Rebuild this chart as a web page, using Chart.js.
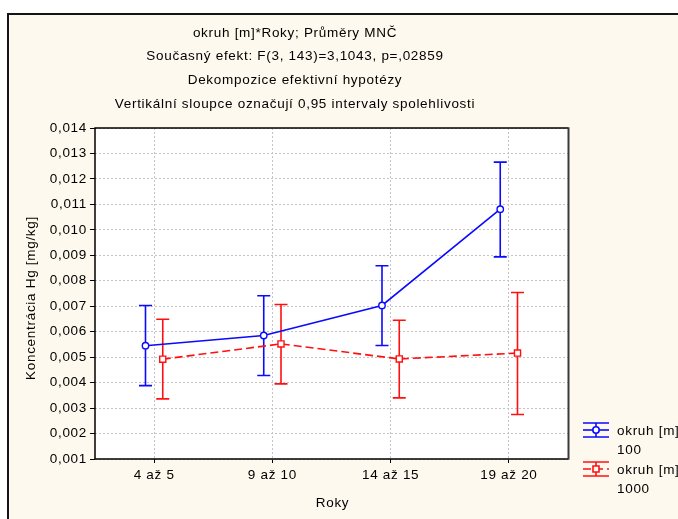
<!DOCTYPE html>
<html>
<head>
<meta charset="utf-8">
<script src="https://cdn.jsdelivr.net/npm/chart.js@4/dist/chart.umd.min.js"></script>
<style>
html,body{margin:0;padding:0;background:#fff;}
canvas{display:block;}
</style>
</head>
<body>
<canvas id="c" width="678" height="519"></canvas>
<script>
const categories = ['4 až 5', '9 až 10', '14 až 15', '19 až 20'];
const titleLines = [
  'okruh [m]*Roky; Průměry MNČ',
  'Současný efekt: F(3, 143)=3,1043, p=,02859',
  'Dekompozice efektivní hypotézy',
  'Vertikální sloupce označují 0,95 intervaly spolehlivosti'
];
const xTitle = 'Roky';
const yTitle = 'Koncentrácia Hg [mg/kg]';
const seriesLabels = [['okruh [m]', '100'], ['okruh [m]', '1000']];

const mean100 = [0.00545, 0.00585, 0.00703, 0.01081];
const low100  = [0.00388, 0.00428, 0.00546, 0.00894];
const high100 = [0.00703, 0.00741, 0.00859, 0.01266];

const mean1000 = [0.00492, 0.00552, 0.00493, 0.00516];
const low1000  = [0.00336, 0.00395, 0.00340, 0.00275];
const high1000 = [0.00649, 0.00707, 0.00645, 0.00754];

const yTicks = [0.001, 0.002, 0.003, 0.004, 0.005, 0.006, 0.007, 0.008, 0.009, 0.010, 0.011, 0.012, 0.013, 0.014];

const BLUE = '#0a0aff';
const RED = '#ff1010';
const SHIFT = 0.073;
const FONT = '"Liberation Sans", Arial, sans-serif';
const FSIZE = 13.5;
const SPACING = '0.7px';

const lows = [low100, low1000];
const highs = [high100, high1000];

const errorBars = {
  id: 'errorBars',
  beforeDatasetsDraw(chart) {
    const ctx = chart.ctx;
    const xs = chart.scales.x, ys = chart.scales.y;
    chart.data.datasets.forEach((ds, di) => {
      ctx.save();
      ctx.strokeStyle = ds.borderColor;
      ctx.lineWidth = 1.6;
      ds.data.forEach((p, i) => {
        const x = xs.getPixelForValue(p.x);
        const yl = ys.getPixelForValue(lows[di][i]);
        const yh = ys.getPixelForValue(highs[di][i]);
        ctx.beginPath();
        ctx.moveTo(x, yl); ctx.lineTo(x, yh);
        ctx.moveTo(x - 6.5, yl); ctx.lineTo(x + 6.5, yl);
        ctx.moveTo(x - 6.5, yh); ctx.lineTo(x + 6.5, yh);
        ctx.stroke();
      });
      ctx.restore();
    });
  }
};

const decor = {
  id: 'decor',
  beforeDraw(chart) {
    const ctx = chart.ctx, a = chart.chartArea;
    ctx.save();
    ctx.fillStyle = '#ffffff';
    ctx.fillRect(0, 0, chart.width, chart.height);
    ctx.fillStyle = '#fdf9ee';
    ctx.fillRect(7, 13, chart.width - 7, chart.height - 13);
    ctx.fillStyle = '#151515';
    ctx.fillRect(7, 13, 2, chart.height - 13);
    ctx.fillRect(7, 13, chart.width - 7, 2);
    ctx.fillStyle = '#ffffff';
    ctx.fillRect(a.left, a.top, a.right - a.left, a.bottom - a.top);
    ctx.restore();
    ctx.letterSpacing = SPACING;
  },
  afterDraw(chart) {
    const ctx = chart.ctx, a = chart.chartArea;
    ctx.save();
    ctx.letterSpacing = SPACING;
    // plot frame
    ctx.strokeStyle = '#000';
    ctx.lineWidth = 1.5;
    ctx.beginPath();
    ctx.moveTo(a.right, a.top); ctx.lineTo(a.left, a.top);
    ctx.lineTo(a.left, a.bottom); ctx.lineTo(a.right, a.bottom);
    ctx.stroke();
    ctx.strokeStyle = '#3a3a3a';
    ctx.lineWidth = 2;
    ctx.beginPath();
    ctx.moveTo(a.right + 0.5, a.top - 0.7); ctx.lineTo(a.right + 0.5, a.bottom + 0.7);
    ctx.stroke();

    // titles
    ctx.fillStyle = '#000';
    ctx.font = FSIZE + 'px ' + FONT;
    ctx.textAlign = 'center';
    ctx.textBaseline = 'middle';
    titleLines.forEach((t, i) => ctx.fillText(t, 295, 33 + i * 23.7));

    // axis titles
    ctx.fillText(xTitle, (a.left + a.right) / 2 + 1, 503);
    ctx.save();
    ctx.translate(31, 298);
    ctx.rotate(-Math.PI / 2);
    ctx.fillText(yTitle, 0, 0);
    ctx.restore();

    // legend
    ctx.textAlign = 'left';
    chart.data.datasets.forEach((ds, di) => {
      const cy = [430, 469][di];
      const x1 = 583, x2 = 609, cx = 596;
      ctx.strokeStyle = ds.borderColor;
      ctx.lineWidth = 1.6;
      ctx.beginPath();
      ctx.moveTo(x1, cy - 7); ctx.lineTo(x2, cy - 7);
      ctx.moveTo(x1, cy + 7); ctx.lineTo(x2, cy + 7);
      ctx.moveTo(cx, cy - 7); ctx.lineTo(cx, cy + 7);
      ctx.stroke();
      ctx.save();
      ctx.setLineDash(ds.borderDash || []);
      ctx.beginPath();
      ctx.moveTo(x1, cy); ctx.lineTo(x2, cy);
      ctx.stroke();
      ctx.restore();
      ctx.fillStyle = '#fff';
      ctx.beginPath();
      if (ds.pointStyle === 'rect') {
        ctx.rect(cx - 3, cy - 3, 6, 6);
      } else {
        ctx.arc(cx, cy, 3.2, 0, Math.PI * 2);
      }
      ctx.fill(); ctx.stroke();
      ctx.fillStyle = '#000';
      ctx.font = FSIZE + 'px ' + FONT;
      ctx.fillText(seriesLabels[di][0], 617, cy + 1);
      ctx.fillText(seriesLabels[di][1], 617, cy + 20);
    });
    ctx.restore();
  }
};

const ds100 = categories.map((c, i) => ({ x: i - SHIFT, y: mean100[i] }));
const ds1000 = categories.map((c, i) => ({ x: i + SHIFT, y: mean1000[i] }));

new Chart(document.getElementById('c'), {
  type: 'line',
  data: {
    datasets: [
      {
        label: seriesLabels[0].join(' '),
        data: ds100,
        borderColor: BLUE,
        backgroundColor: '#ffffff',
        borderWidth: 1.6,
        pointStyle: 'circle',
        pointRadius: 3.2,
        pointBorderWidth: 1.4,
        pointBackgroundColor: '#ffffff',
        pointBorderColor: BLUE,
        tension: 0
      },
      {
        label: seriesLabels[1].join(' '),
        data: ds1000,
        borderColor: RED,
        backgroundColor: '#ffffff',
        borderWidth: 1.6,
        borderDash: [8, 4],
        pointStyle: 'rect',
        pointRadius: 4.3,
        pointBorderWidth: 1.4,
        pointBackgroundColor: '#ffffff',
        pointBorderColor: RED,
        tension: 0
      }
    ]
  },
  options: {
    responsive: false,
    animation: false,
    devicePixelRatio: 1,
    layout: { padding: { left: 0, top: 128, right: 110, bottom: 0 } },
    plugins: {
      legend: { display: false },
      title: { display: false },
      tooltip: { enabled: false }
    },
    scales: {
      x: {
        type: 'linear',
        min: -0.5,
        max: categories.length - 0.5,
        afterFit(s) { s.height = 60; },
        afterBuildTicks(s) { s.ticks = categories.map((c, i) => ({ value: i })); },
        ticks: {
          callback: (v) => categories[Math.round(v)] ?? '',
          color: '#000',
          font: { family: FONT, size: FSIZE },
          padding: 4,
          maxRotation: 0,
          autoSkip: false
        },
        grid: {
          color: '#c4c4c4',
          lineWidth: 1,
          tickLength: 4,
          tickColor: '#000',
          tickWidth: 1
        },
        border: { display: false, dash: [2, 2] }
      },
      y: {
        type: 'linear',
        min: yTicks[0],
        max: yTicks[yTicks.length - 1],
        afterFit(s) { s.width = 95; },
        afterBuildTicks(s) { s.ticks = yTicks.map(v => ({ value: v })); },
        ticks: {
          callback: (v) => v.toFixed(3).replace('.', ','),
          color: '#000',
          font: { family: FONT, size: FSIZE },
          padding: 3
        },
        grid: {
          color: '#c4c4c4',
          lineWidth: 1,
          tickLength: 5,
          tickColor: '#000',
          tickWidth: 1
        },
        border: { display: false, dash: [2, 2] }
      }
    }
  },
  plugins: [decor, errorBars]
});
</script>
</body>
</html>
